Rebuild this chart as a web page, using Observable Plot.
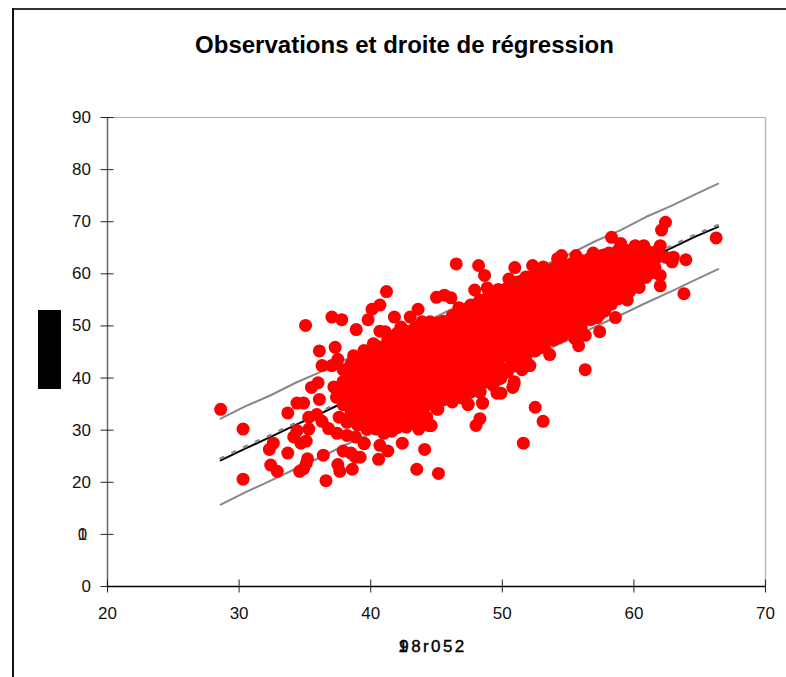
<!DOCTYPE html>
<html><head><meta charset="utf-8">
<script src="https://cdn.jsdelivr.net/npm/d3@7"></script>
<script src="https://cdn.jsdelivr.net/npm/@observablehq/plot@0.6"></script>
<style>
html,body{margin:0;padding:0;background:#fff;overflow:hidden}
body{position:relative;width:786px;height:677px;font-family:"Liberation Sans",Arial,sans-serif}
#frameTop{position:absolute;left:12px;top:8px;width:774px;height:2px;background:#333}
#frameLeft{position:absolute;left:12px;top:8px;width:1.5px;height:669px;background:#111}
#title{position:absolute;left:0;top:30px;width:809px;text-align:center;font-weight:bold;font-size:24px;line-height:30px;color:#000}
#ylabel{position:absolute;left:38px;top:310px;width:23px;height:79px;background:#000}
#chart{position:absolute;left:0;top:0}
svg{display:block}
</style></head><body>
<div id="chart"></div>
<div id="frameTop"></div><div id="frameLeft"></div>
<div id="title">Observations et droite de régression</div>
<div id="ylabel"></div>
<script>
const xTicks = [20,30,40,50,60,70];
const yTicks = [0,10,20,30,40,50,60,70,80,90];

const lineX  = [28.6,30.5,32.4,34.3,36.2,38.1,40,41.9,43.8,45.7,47.6,49.5,51.4,53.3,55.2,57.1,59,60.9,62.8,64.7,66.4];
const center = [24.2,26.5,28.7,31.0,33.2,35.5,37.8,40.0,42.3,44.6,46.8,49.1,51.4,53.6,55.9,58.1,60.4,62.7,64.9,67.2,69.0];
const upper  = [32.2,34.6,36.7,39.1,41.2,43.6,45.7,48.2,50.2,52.7,54.8,57.2,59.3,61.8,63.9,66.3,68.4,70.9,73.0,75.3,77.3];
const lower  = [15.7,18.1,20.3,22.6,24.8,27.2,29.3,31.8,33.9,36.3,38.4,40.9,43.0,45.4,47.5,49.9,52.1,54.4,56.6,58.9,60.9];

const outlierX = [28.6,30.3,30.3,35.05,37.05,37.8,38.9,39.8,40.1,40.7,41.2,41.8,43.0,43.6,45,45.6,40.7,36.1,37.3,37.5,37.05,36.3,36,35.5,36.1,34.4,34.9,33.7,35.3,35.9,36.3,36.8,37.45,35.3,34.4,34.15,34.7,35.1,32.6,32.3,33.7,36.4,35.2,35.1,32.4,32.9,34.6,34.9,36.6,37.5,37.65,38.6,40.6,41.3,40.7,42.4,44.1,43.5,45.15,37.9,38.5,38.85,39.2,39.5,38.2,38.85,41,41.5,42.7,43.65,44.55,44.25,43.5,
 46.5,48.2,48.65,47.9,48.85,46.1,46.7,50.95,50.5,50.6,52.3,53.1,54.2,54.5,55.6,56.9,58.3,59,60.1,60.75,62,62.4,62.1,66.25,63.95,63,62.9,62.4,62,62,63.8,61,60.25,59.7,59.5,58.3,58.6,57.2,57.4,56.3,55.8,56.3,57.3,52.1,52.9,54.3,50.9,50.8,49.9,49.6,49.9,48.3,48.5,47.4,48.3,48,52.5,53.1,51.6,45.1,44.6,46.2];
const outlierY = [34.0,30.2,20.6,50.1,51.7,51.2,49.3,51.2,53.2,54.0,56.6,51.7,51.7,53.2,55.5,55.9,49,45.2,45.9,43.6,42.4,42.4,39.1,38.2,35.9,35.2,35.2,33.3,32.5,33,31.7,30.3,29.4,30.2,29.9,28.7,27.5,27.9,27.5,26.3,25.6,25.2,24.5,23.6,23.3,22.1,22.1,22.6,20.3,23.4,22.1,22.5,24.4,26,27.1,27.5,26.3,22.5,21.7,26,25.6,24.8,24.8,27.5,29,28.7,29.4,30.2,30.6,30.2,30.9,32.5,31.5,
 61.9,61.6,59.7,56.9,57.3,55.4,53.5,61.2,59,57.6,61.6,61.3,62.9,63.5,63.5,64,67,65.8,65.4,65.4,65.4,69.9,68.4,66.9,62.7,63.2,62.3,63.2,59.7,57.7,56.2,60,59.7,56.7,55,54.2,51.6,51.6,48.9,48.2,46.2,41.6,53.7,42.4,45.8,47.8,39.3,38.2,40.2,37.1,37.1,37.5,35.2,35,32.2,30.9,34.4,31.7,27.5,34,30.9,35.4];

// edge lumps of the cloud
const edgeX = [43.9,44.5,41.1,42.3,40.2,39.5,38.7,38.2,38.5,39.2,39.5,42.8,43.7,44.4,45.0,43.3,46.2,47.4,48.5,48.3,50.9,49.9,37.6,38.2,39,39.7,40.4,41,41.6,42,37.4,37.2,38.1,39.0,47.3,49.3,51.5,53.6,55.5,57.8,59.2,60.4,61.4];
const edgeY = [50.8,50.8,48.9,49.8,46.6,45.3,44.3,40.2,33.1,31.2,27.4,30.9,30.6,30.9,34.1,34.1,35.7,34.9,35.2,37.3,38.9,40,32.5,31.5,31,30.2,30.2,31,29.8,30.5,36.3,38.3,35.5,34.6,37.5,38.6,41.6,44.5,47.6,52.9,55.8,57.4,60.2];

// dense core of the cloud, read column by column: [x, ...y values]
const coreColumns = [
 [37.9,34.9,37.2,39.3,41.6],
 [38.5,33.8,36.1,38.2,40.4,42.7],
 [39.2,32.6,34.9,37.0,39.3,41.4,43.6],
 [39.9,32.0,34.0,36.2,38.3,40.6,42.8,45.0],
 [40.6,31.5,33.3,35.4,37.6,39.8,41.9,44.1,46.0],
 [41.3,32.2,34.4,36.5,38.8,41.0,43.1,45.3,47.4],
 [42.0,31.3,33.4,35.6,37.8,40.0,42.2,44.4,46.5,48.6],
 [42.7,32.4,34.6,36.8,39.0,41.2,43.3,45.5,47.7,49.0],
 [43.4,33.3,35.5,37.7,39.9,42.1,44.3,46.5,48.7,49.8],
 [44.1,34.5,36.6,38.8,41.0,43.2,45.4,47.6,49.8],
 [44.8,35.3,37.6,39.8,42.0,44.2,46.4,48.6,50.5],
 [45.5,35.8,38.6,40.8,43.0,45.2,47.4,49.6,50.9],
 [46.2,36.3,37.8,40.0,42.2,44.4,46.6,48.8,51.0,52.0],
 [46.9,36.2,38.9,41.1,43.3,45.5,47.7,49.9,52.1,53.0],
 [47.6,37.3,39.9,42.1,44.3,46.5,48.7,50.9,53.1,54.0],
 [48.3,38.2,41.0,43.2,45.4,47.6,49.8,52.0,54.2,55.0],
 [49.0,39.2,42.0,44.2,46.4,48.6,50.8,53.0,55.2,56.0],
 [49.7,39.8,41.2,43.3,45.5,47.7,49.9,52.1,54.3,56.4,57.0],
 [50.4,41.2,44.2,46.4,48.6,50.8,53.0,55.2,57.3],
 [51.1,42.3,45.3,47.5,49.7,51.9,54.1,56.3,58.4],
 [51.8,43.3,46.3,48.5,50.7,52.9,55.1,57.3,59.4],
 [52.5,45.2,47.4,49.6,51.8,54.0,56.2,58.4,60.0],
 [53.2,46.3,48.5,50.7,52.9,55.1,57.3,59.5,60.4],
 [53.9,47.3,49.5,51.7,53.9,56.1,58.3,60.5,61.0],
 [54.6,48.2,50.5,52.7,54.9,57.1,59.3,61.4],
 [55.3,49.3,51.6,53.8,56.0,58.2,60.4,62.0],
 [56.0,49.7,52.6,54.8,57.0,59.2,61.4,62.5],
 [56.7,51.2,53.6,55.8,58.0,60.2,62.4,63.0],
 [57.4,52.2,54.6,56.8,59.0,61.2,63.4],
 [58.1,54.2,55.7,57.9,60.1,62.3,64.0],
 [58.8,55.2,56.8,59.0,61.2,63.4,64.5],
 [59.5,56.6,58.0,60.2,62.4,64.5],
 [60.2,58.3,59.4,61.6,63.8,64.6],
 [60.9,59.3,60.9,63.0,64.6],
 [61.6,61.2,62.7,64.2]
];
// second pass, between the columns above, where the cloud is solid
const fillColumns = [
 [38.2,35.0,37.1,39.3,41.5],
 [38.9,34.0,36.0,38.2,40.4,42.6],
 [39.5,33.0,35.1,37.3,39.5,41.7,43.9],
 [40.2,33.0,35.1,37.3,39.5,41.7,43.9],
 [40.9,32.4,34.5,36.7,38.9,41.1,43.2,45.2],
 [41.6,33.4,35.5,37.7,39.9,42.1,44.3,46.5],
 [42.3,32.3,34.5,36.7,38.9,41.1,43.3,45.5,47.6],
 [43.0,33.4,35.5,37.7,39.9,42.1,44.3,46.5,48.6],
 [43.7,34.4,36.5,38.7,40.9,43.1,45.3,47.5,49.3],
 [44.4,35.5,37.6,39.8,42.0,44.2,46.4,48.6,49.9],
 [45.1,36.5,38.7,40.9,43.1,45.3,47.5,49.7,50.6],
 [45.8,36.9,39.7,41.9,44.1,46.3,48.5,50.5],
 [46.5,37.2,39.0,41.2,43.4,45.6,47.8,50.0,51.8],
 [47.2,38.3,40.0,42.2,44.4,46.6,48.8,51.0,52.8],
 [47.9,39.0,41.0,43.2,45.4,47.6,49.8,52.0,53.8],
 [48.6,39.7,42.1,44.3,46.5,48.7,50.9,53.1,54.8],
 [49.3,40.7,43.1,45.3,47.5,49.7,51.9,54.1,55.8],
 [50.0,41.8,44.4,46.6,48.8,51.0,53.2,55.4,56.8],
 [50.7,43.2,45.3,47.5,49.7,51.9,54.1,56.3,57.6],
 [51.4,44.2,46.4,48.6,50.8,53.0,55.2,57.4,58.6],
 [52.1,45.2,47.4,49.6,51.8,54.0,56.2,58.4,59.4],
 [52.8,46.3,48.5,50.7,52.9,55.1,57.3,59.5,60.2],
 [53.5,47.3,49.5,51.7,53.9,56.1,58.3,60.3],
 [54.2,48.4,50.6,52.8,55.0,57.2,59.4,61.0],
 [54.9,49.4,51.6,53.8,56.0,58.2,60.4,61.6],
 [55.6,50.5,52.7,54.9,57.1,59.3,61.5],
 [56.3,51.5,53.7,55.9,58.1,60.3,62.5],
 [57.0,52.6,54.8,57.0,59.2,61.4,63.1],
 [57.7,53.7,55.9,58.1,60.3,62.5,63.6],
 [58.4,55.3,57.0,59.2,61.4,63.4],
 [59.1,56.6,58.2,60.4,62.6,64.4],
 [59.8,58.0,59.5,61.7,63.5],
 [60.5,59.5,61.0,63.0,64.6],
 [61.2,60.8,62.4,64.0]
];

const columns = [...coreColumns, ...fillColumns];
const xs = [...outlierX, ...edgeX, ...columns.flatMap(c => c.slice(1).map(() => c[0]))];
const ys = [...outlierY, ...edgeY, ...columns.flatMap(c => c.slice(1))];
const obs = xs.map((x,i) => ({x, y: ys[i]}));
const lineRows = lineX.map((x,i) => ({x, c:center[i], u:upper[i], l:lower[i]}));

const font = '"Liberation Sans",Arial,sans-serif';
const chart = Plot.plot({
  width: 786, height: 677,
  marginLeft: 107, marginRight: 21, marginTop: 117, marginBottom: 91,
  style: {fontFamily: font, fontSize: "17px", background: "transparent", color: "#111", overflow:"visible"},
  x: {domain: [20,70]},
  y: {domain: [0,90]},
  marks: [
    Plot.ruleY([90], {stroke:"#aaa", strokeWidth:1}),
    Plot.ruleX([70], {stroke:"#bbb", strokeWidth:1.5}),
    Plot.ruleX([20], {stroke:"#666", strokeWidth:1.5}),
    Plot.axisY({ticks: yTicks, tickSize: 6.5, tickPadding: 10, label: null, stroke:"#222",
      tickFormat: d => d === 10 ? "" : d, fontSize: 17}),
    Plot.ruleY(yTicks, {x1: 20, x2: 20.5, stroke:"#222", strokeWidth:1}),
    Plot.axisX({ticks: xTicks, tickSize: 6.5, tickPadding: 14, label: null, stroke:"#222", fontSize: 17}),
    Plot.ruleX(xTicks, {y1: 0, y2: 1.25, stroke:"#222", strokeWidth:1}),
    Plot.ruleY([0], {stroke:"#000", strokeWidth:1.3}),
    Plot.text(["1","0"], {x: 20, y: 10, text: d => d, dx: -25, fontSize: 17, fill:"#222"}),
    Plot.text(["1"], {x: 45, y: 0, text: d => d, dx: -33.5, dy: 60, fontSize: 17, fill:"#000", stroke:"#000", strokeWidth:0.4}),
    Plot.text(["98r052"], {x: 45, y: 0, text: d => d, dx: -3.5, dy: 60, fontSize: 17, fill:"#000", stroke:"#000", strokeWidth:0.4,
      render(index, scales, values, dims, ctx, next){ const g = next(index, scales, values, dims, ctx); g.style.letterSpacing = "2.4px"; return g; }}),
    Plot.line(lineRows, {x:"x", y:"u", stroke:"#888", strokeWidth:2}),
    Plot.line(lineRows, {x:"x", y:"l", stroke:"#888", strokeWidth:2}),
    Plot.line(lineRows, {x:"x", y:"c", stroke:"#000", strokeWidth:2}),
    Plot.line(lineRows, {x:"x", y:"c", dy:-2, stroke:"#888", strokeWidth:2.5, strokeDasharray:"3 10"}),
    Plot.dot(obs, {x:"x", y:"y", r:6.5, fill:"#ff0000", stroke:"none"})
  ]
});
document.getElementById("chart").append(chart);
</script>
</body></html>
